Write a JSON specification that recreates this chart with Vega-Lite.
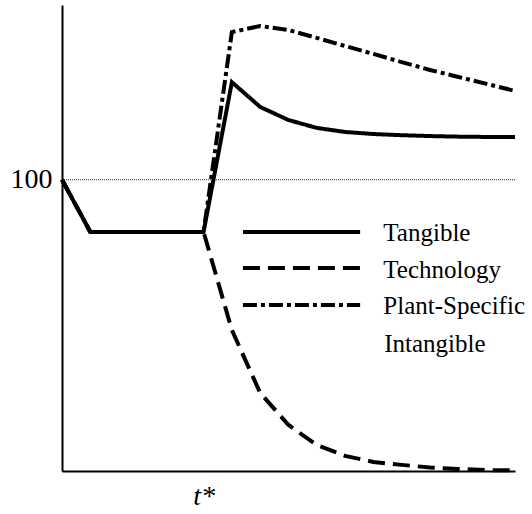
{
  "$schema": "https://vega.github.io/schema/vega-lite/v6.json",
  "width": 453,
  "height": 466,
  "autosize": "none",
  "padding": {"left": 62, "top": 5, "right": 17, "bottom": 43},
  "background": "white",
  "config": {"view": {"stroke": null}, "font": "Liberation Serif"},
  "datasets": {
    "curves": [
      {"series": "Tangible", "t": 0, "v": 100},
      {"series": "Tangible", "t": 1, "v": 82.1},
      {"series": "Tangible", "t": 5, "v": 82.1},
      {"series": "Tangible", "t": 6, "v": 133.5},
      {"series": "Tangible", "t": 7, "v": 125},
      {"series": "Tangible", "t": 8, "v": 120.5},
      {"series": "Tangible", "t": 9, "v": 117.8},
      {"series": "Tangible", "t": 10, "v": 116.4},
      {"series": "Tangible", "t": 11, "v": 115.7},
      {"series": "Tangible", "t": 12, "v": 115.3},
      {"series": "Tangible", "t": 13, "v": 115.0},
      {"series": "Tangible", "t": 14, "v": 114.8},
      {"series": "Tangible", "t": 15, "v": 114.7},
      {"series": "Tangible", "t": 16, "v": 114.7},
      {"series": "Technology", "t": 0, "v": 100},
      {"series": "Technology", "t": 1, "v": 82.1},
      {"series": "Technology", "t": 5, "v": 82.1},
      {"series": "Technology", "t": 6, "v": 48.4},
      {"series": "Technology", "t": 7, "v": 26.8},
      {"series": "Technology", "t": 8, "v": 15.8},
      {"series": "Technology", "t": 9, "v": 8.9},
      {"series": "Technology", "t": 10, "v": 5.2},
      {"series": "Technology", "t": 11, "v": 3.1},
      {"series": "Technology", "t": 12, "v": 2.1},
      {"series": "Technology", "t": 13, "v": 1.2},
      {"series": "Technology", "t": 14, "v": 0.7},
      {"series": "Technology", "t": 15, "v": 0.3},
      {"series": "Technology", "t": 16, "v": 0.2},
      {"series": "Plant", "t": 0, "v": 100},
      {"series": "Plant", "t": 1, "v": 82.1},
      {"series": "Plant", "t": 5, "v": 82.1},
      {"series": "Plant", "t": 6, "v": 150.7},
      {"series": "Plant", "t": 7, "v": 152.8},
      {"series": "Plant", "t": 8, "v": 151.4},
      {"series": "Plant", "t": 9, "v": 148.7},
      {"series": "Plant", "t": 10, "v": 145.9},
      {"series": "Plant", "t": 11, "v": 143.2},
      {"series": "Plant", "t": 12, "v": 140.4},
      {"series": "Plant", "t": 13, "v": 137.7},
      {"series": "Plant", "t": 14, "v": 135.3},
      {"series": "Plant", "t": 15, "v": 132.9},
      {"series": "Plant", "t": 16, "v": 130.5}
    ],
    "keys": [
      {"series": "Tangible", "x1": 6.39, "x2": 10.53, "v": 82.1},
      {"series": "Technology", "x1": 6.39, "x2": 10.53, "v": 69.7},
      {"series": "Plant", "x1": 6.39, "x2": 10.53, "v": 57.0}
    ],
    "labels": [
      {"label": "Tangible", "t": 11.35, "v": 79.0},
      {"label": "Technology", "t": 11.35, "v": 66.4},
      {"label": "Plant-Specific", "t": 11.35, "v": 53.8},
      {"label": "Intangible", "t": 11.38, "v": 41.0}
    ],
    "ref": [{"v": 100}]
  },
  "layer": [
    {
      "data": {"name": "ref"},
      "mark": {"type": "rule", "stroke": "#222", "strokeWidth": 1, "strokeDash": [1, 1]},
      "encoding": {
        "y": {"field": "v", "type": "quantitative", "scale": {"domain": [0, 160], "nice": false, "zero": false},
          "axis": {"values": [100], "title": null, "grid": false, "ticks": false, "domainColor": "black", "domainWidth": 2,
            "labelFont": "Liberation Serif", "labelFontSize": 28, "labelColor": "black", "labelPadding": 10}}
      }
    },
    {
      "data": {"name": "curves"},
      "mark": {"type": "line", "strokeWidth": 4, "color": "black", "strokeJoin": "miter", "strokeCap": "butt"},
      "encoding": {
        "x": {"field": "t", "type": "quantitative", "scale": {"domain": [0, 16], "nice": false, "zero": false},
          "axis": {"values": [5], "labelExpr": "'t*'", "title": null, "grid": false, "ticks": false, "domainColor": "black", "domainWidth": 2,
            "labelFont": "Liberation Serif", "labelFontStyle": "italic", "labelFontSize": 28, "labelColor": "black", "labelPadding": 11}},
        "y": {"field": "v", "type": "quantitative"},
        "detail": {"field": "series"},
        "strokeDash": {"field": "series", "type": "nominal", "legend": null,
          "scale": {"domain": ["Tangible", "Technology", "Plant"], "range": [[1, 0], [17, 8], [14, 4, 4, 4]]}},
        "order": {"field": "t"}
      }
    },
    {
      "data": {"name": "keys"},
      "mark": {"type": "rule", "strokeWidth": 4, "color": "black", "strokeCap": "butt"},
      "encoding": {
        "x": {"field": "x1", "type": "quantitative"},
        "x2": {"field": "x2"},
        "y": {"field": "v", "type": "quantitative"},
        "strokeDash": {"field": "series", "type": "nominal", "legend": null}
      }
    },
    {
      "data": {"name": "labels"},
      "mark": {"type": "text", "align": "left", "baseline": "alphabetic", "font": "Liberation Serif", "fontSize": 25, "color": "black"},
      "encoding": {
        "x": {"field": "t", "type": "quantitative"},
        "y": {"field": "v", "type": "quantitative"},
        "text": {"field": "label"}
      }
    }
  ]
}
